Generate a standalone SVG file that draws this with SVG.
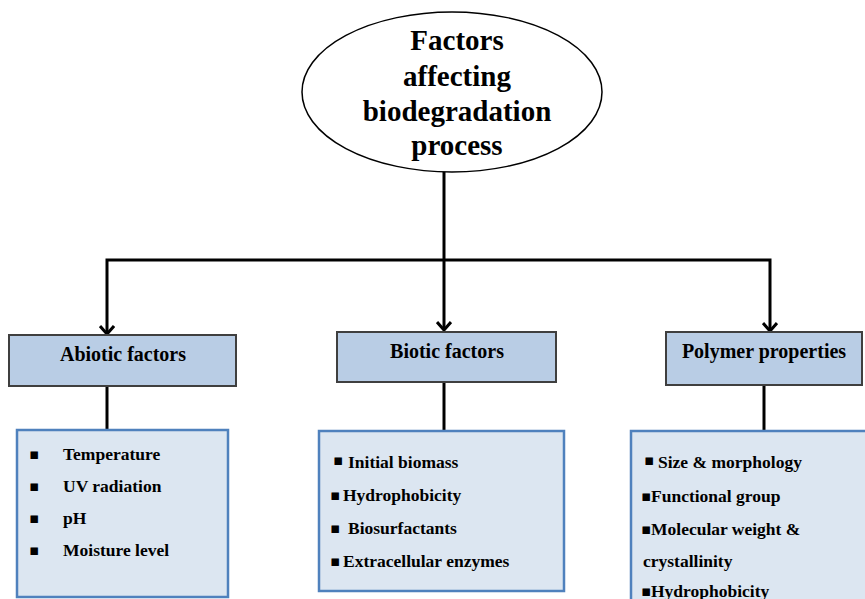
<svg xmlns="http://www.w3.org/2000/svg" width="865" height="599" viewBox="0 0 865 599">
<defs>
<marker id="arr" viewBox="0 0 12 16" refX="10" refY="8" markerWidth="12" markerHeight="16" markerUnits="userSpaceOnUse" orient="auto-start-reverse">
<polyline points="2,1 10,8 2,15" fill="none" stroke="#000" stroke-width="3" stroke-linejoin="miter"/>
</marker>
</defs>
<style>
text{font-family:"Liberation Serif","DejaVu Serif",serif;font-weight:bold;fill:#000}
.title{font-size:29px;text-anchor:middle}
.hd{font-size:20px;text-anchor:middle}
.it{font-size:17.5px}
text.bl{font-family:"DejaVu Sans",sans-serif;font-weight:normal;font-size:15px}
.hbox{fill:#b9cde5;stroke:#3f3f3f;stroke-width:2}
.lbox{fill:#dce6f1;stroke:#4f81bd;stroke-width:2.5}
.con{fill:none;stroke:#000;stroke-width:3}
</style>
<rect width="865" height="599" fill="#fff"/>
<g id="connectors">
<path class="con" d="M444,172 V330" marker-end="url(#arr)"/>
<path class="con" d="M107,334 V260 H770 V331" marker-start="url(#arr)" marker-end="url(#arr)"/>
<path class="con" d="M107,386 V430"/>
<path class="con" d="M444,382 V431"/>
<path class="con" d="M764,385 V431"/>
</g>
<g id="root">
<ellipse cx="452" cy="92" rx="150" ry="80" fill="#fff" stroke="#000" stroke-width="1.5"/>
<text class="title" x="457" y="50">Factors</text>
<text class="title" x="457" y="86">affecting</text>
<text class="title" x="457" y="121">biodegradation</text>
<text class="title" x="457" y="155">process</text>
</g>
<g id="abiotic">
<rect class="hbox" x="9" y="335" width="227" height="51"/>
<text class="hd" x="123" y="361">Abiotic factors</text>
</g>
<g id="biotic">
<rect class="hbox" x="337" y="332" width="219" height="50"/>
<text class="hd" x="447" y="358">Biotic factors</text>
</g>
<g id="polymer">
<rect class="hbox" x="666" y="332" width="196" height="53"/>
<text class="hd" x="764" y="358">Polymer properties</text>
</g>
<g id="abiotic-list">
<rect class="lbox" x="17" y="430" width="211" height="167"/>
<text class="bl" x="29" y="459">▪</text><text class="it" x="63" y="460">Temperature</text>
<text class="bl" x="29" y="491">▪</text><text class="it" x="63" y="492">UV radiation</text>
<text class="bl" x="29" y="523">▪</text><text class="it" x="63" y="524">pH</text>
<text class="bl" x="29" y="555">▪</text><text class="it" x="63" y="556">Moisture level</text>
</g>
<g id="biotic-list">
<rect class="lbox" x="319" y="431" width="245" height="160"/>
<text class="bl" x="333" y="465">▪</text><text class="it" x="348" y="468">Initial biomass</text>
<text class="bl" x="330" y="500">▪</text><text class="it" x="343" y="501">Hydrophobicity</text>
<text class="bl" x="330" y="533">▪</text><text class="it" x="348" y="534">Biosurfactants</text>
<text class="bl" x="330" y="566">▪</text><text class="it" x="343" y="567">Extracellular enzymes</text>
</g>
<g id="polymer-list">
<rect class="lbox" x="631" y="431" width="240" height="180"/>
<text class="bl" x="644" y="465">▪</text><text class="it" x="658" y="468">Size &amp; morphology</text>
<text class="bl" x="641" y="501">▪</text><text class="it" x="651" y="502">Functional group</text>
<text class="bl" x="641" y="534">▪</text><text class="it" x="651" y="535">Molecular weight &amp;</text>
<text class="it" x="643" y="567">crystallinity</text>
<text class="bl" x="641" y="596">▪</text><text class="it" x="651" y="597">Hydrophobicity</text>
</g>
</svg>
